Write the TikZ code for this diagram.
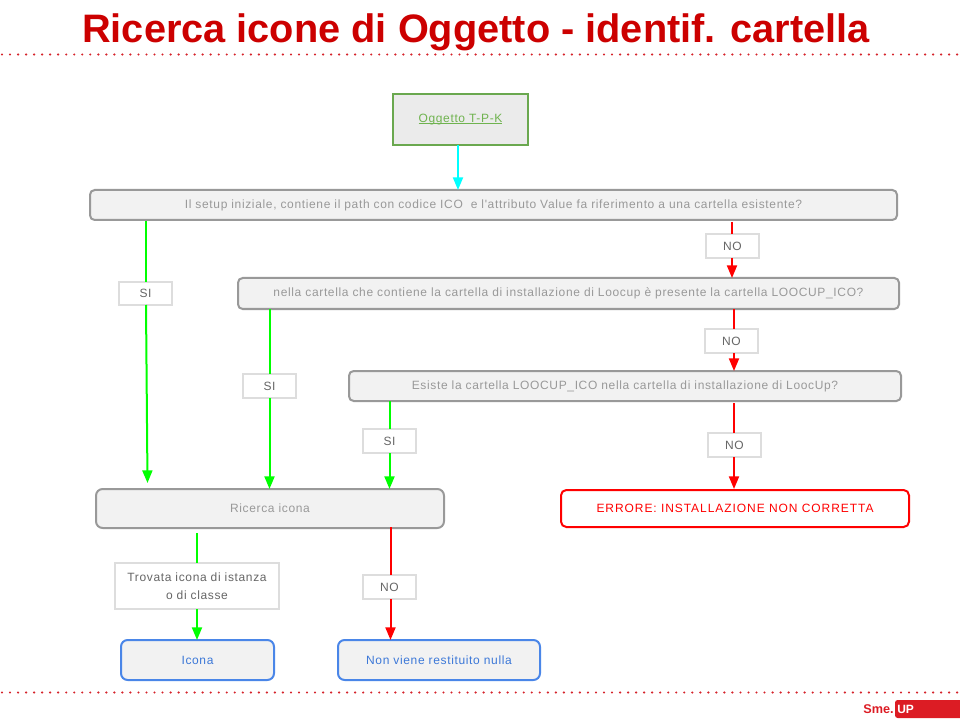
\documentclass[tikz,border=0pt]{standalone}
\usepackage{fontspec}
\setmainfont{Liberation Sans}
\usetikzlibrary{arrows.meta}
\newfontfamily\bodyf[LetterSpace=5.4]{Liberation Sans}
\newfontfamily\errf[LetterSpace=7.8]{Liberation Sans}
\newcommand\ulinedtext[1]{\setbox0\hbox{#1}\rlap{\rule[-1.3pt]{\wd0}{0.7pt}}\box0}
\definecolor{titlered}{HTML}{CC0000}
\definecolor{dotred}{HTML}{D5232B}
\definecolor{logored}{HTML}{DC1C24}
\definecolor{boxfill}{HTML}{F2F2F2}
\definecolor{boxgray}{HTML}{999999}
\definecolor{txtgray}{HTML}{999999}
\definecolor{lblgray}{HTML}{DDDDDD}
\definecolor{lbltxt}{HTML}{666666}
\definecolor{oggreen}{HTML}{6AA84F}
\definecolor{oggtxt}{HTML}{6FB34F}
\definecolor{bluebd}{HTML}{4A86E8}
\definecolor{bluetx}{HTML}{3C78D8}
\definecolor{arrcyan}{HTML}{00FFFF}
\definecolor{arrgreen}{HTML}{00FF00}
\definecolor{arrred}{HTML}{FF0000}
\tikzset{
  x=0.75pt,y=-0.75pt,
  basebox/.style={draw,line width=1.5pt,fill=boxfill,outer sep=0pt,inner sep=0pt,font=\bodyf\fontsize{9}{11}\selectfont,align=center},
  question/.style={basebox,draw=boxgray,text=txtgray,rounded corners=3.5pt},
  startbox/.style={basebox,draw=oggreen,text=oggtxt,fill=boxfill!97!black},
  errbox/.style={basebox,draw=arrred,text=arrred,fill=white,rounded corners=4pt,line width=1.5pt,font=\errf\fontsize{9}{11}\selectfont},
  endbox/.style={basebox,draw=bluebd,text=bluetx,rounded corners=5pt},
  lbl/.style={draw=lblgray,line width=1.5pt,fill=white,text=lbltxt,outer sep=0pt,inner sep=0pt,font=\bodyf\fontsize{9}{13.5}\selectfont,align=center},
  conn/.style={line width=1.5pt,-{Triangle[length=9.5pt,width=7.5pt]}},
  plainconn/.style={line width=1.5pt},
  dotline/.style={draw=dotred,line width=1.8pt,line cap=round,dash pattern=on 0pt off 6.02pt},
}
\begin{document}
\begin{tikzpicture}
\useasboundingbox (0,0) rectangle (960,720);
% header and footer
\node[text=titlered,font=\fontsize{29.8}{34}\selectfont\bfseries] (title) at (476,32) {Ricerca icone di Oggetto - identif. cartella};
\coordinate (dl1a) at (2,54.5); \coordinate (dl1b) at (960,54.5);
\coordinate (dl2a) at (2,692.5); \coordinate (dl2b) at (960,692.5);
\draw[dotline] (dl1a) -- (dl1b);
\draw[dotline] (dl2a) -- (dl2b);
\fill[logored,rounded corners=2pt] (970,700) -- (895,700) -- (895,718) -- (970,718) -- cycle;
\node[text=logored,font=\fontsize{9.5}{11}\selectfont\bfseries,inner sep=0pt,anchor=east] (sme) at (894,709) {Sme.};
\node[text=white,font=\fontsize{9}{11}\selectfont\bfseries,inner sep=0pt,anchor=west] (up) at (897,709) {UP};
% boxes
\node[startbox,minimum width=101.25pt,minimum height=38.25pt] (ogg) at (460.5,119.5) {\ulinedtext{Oggetto T-P-K}};
\node[question,minimum width=605.25pt,minimum height=22.5pt] (q1) at (493.5,205) {Il setup iniziale, contiene il path con codice ICO\ \ e l'attributo Value fa riferimento a una cartella esistente?};
\node[question,minimum width=495.75pt,minimum height=23.25pt] (q2) at (568.5,293.5) {nella cartella che contiene la cartella di installazione di Loocup è presente la cartella LOOCUP\_ICO?};
\node[question,minimum width=414pt,minimum height=22.5pt] (q3) at (625,386) {Esiste la cartella LOOCUP\_ICO nella cartella di installazione di LoocUp?};
\node[question,minimum width=261pt,minimum height=29.25pt,rounded corners=5pt] (ric) at (270,508.5) {Ricerca icona};
\node[errbox,minimum width=261pt,minimum height=27.75pt] (err) at (735,508.5) {ERRORE: INSTALLAZIONE NON CORRETTA};
\node[endbox,minimum width=114.75pt,minimum height=30pt] (ico) at (197.5,660) {Icona};
\node[endbox,minimum width=151.5pt,minimum height=30pt] (nul) at (439,660) {Non viene restituito nulla};
% connector labels
\node[lbl,minimum width=39.75pt,minimum height=17.25pt] (l1) at (145.5,293.5) {SI};
\node[lbl,minimum width=39.75pt,minimum height=18pt] (l2) at (732.5,246) {NO};
\node[lbl,minimum width=39.75pt,minimum height=18pt] (l3) at (269.5,386) {SI};
\node[lbl,minimum width=39.75pt,minimum height=18pt] (l4) at (731.5,341) {NO};
\node[lbl,minimum width=39.75pt,minimum height=18pt] (l5) at (389.5,441) {SI};
\node[lbl,minimum width=39.75pt,minimum height=18pt] (l6) at (734.5,445) {NO};
\node[lbl,minimum width=123pt,minimum height=34.5pt] (l7) at (197,586) {Trovata icona di istanza\\o di classe};
\node[lbl,minimum width=39.75pt,minimum height=18pt] (l8) at (389.5,587) {NO};
% free ends of connectors
\coordinate (s1) at (146,221);
\coordinate (e1) at (147.5,483);
\coordinate (s2) at (732,222);
\coordinate (s4) at (734,309);
\coordinate (e4) at (734,371);
\coordinate (s6) at (734,403);
\coordinate (e6) at (734,489);
\coordinate (s7) at (197,533);
\coordinate (s8) at (390.5,527);
\coordinate (e8) at (390.5,640);
\coordinate (cy) at (458,145);
% connectors
\draw[conn,draw=arrcyan,fill=arrcyan] (ogg.south -| cy) -- (q1.north -| cy);
\draw[plainconn,draw=arrgreen] (s1) -- (l1.north -| s1);
\draw[conn,draw=arrgreen,fill=arrgreen] (l1.south -| s1) -- (e1);
\draw[plainconn,draw=arrred] (s2) -- (l2.north -| s2);
\draw[conn,draw=arrred,fill=arrred] (l2.south -| s2) -- (q2.north -| s2);
\draw[plainconn,draw=arrgreen] (q2.south -| l3) -- (l3.north);
\draw[conn,draw=arrgreen,fill=arrgreen] (l3.south) -- (ric.north -| l3);
\draw[plainconn,draw=arrred] (s4) -- (l4.north -| s4);
\draw[conn,draw=arrred,fill=arrred] (l4.south -| s4) -- (e4);
\draw[plainconn,draw=arrgreen] (q3.south -| l5) -- (l5.north);
\draw[conn,draw=arrgreen,fill=arrgreen] (l5.south) -- (ric.north -| l5);
\draw[plainconn,draw=arrred] (s6) -- (l6.north -| s6);
\draw[conn,draw=arrred,fill=arrred] (l6.south -| s6) -- (e6);
\draw[plainconn,draw=arrgreen] (s7) -- (l7.north -| s7);
\draw[conn,draw=arrgreen,fill=arrgreen] (l7.south -| s7) -- (ico.north -| s7);
\draw[plainconn,draw=arrred] (s8) -- (l8.north -| s8);
\draw[conn,draw=arrred,fill=arrred] (l8.south -| s8) -- (e8);
\end{tikzpicture}
\end{document}
